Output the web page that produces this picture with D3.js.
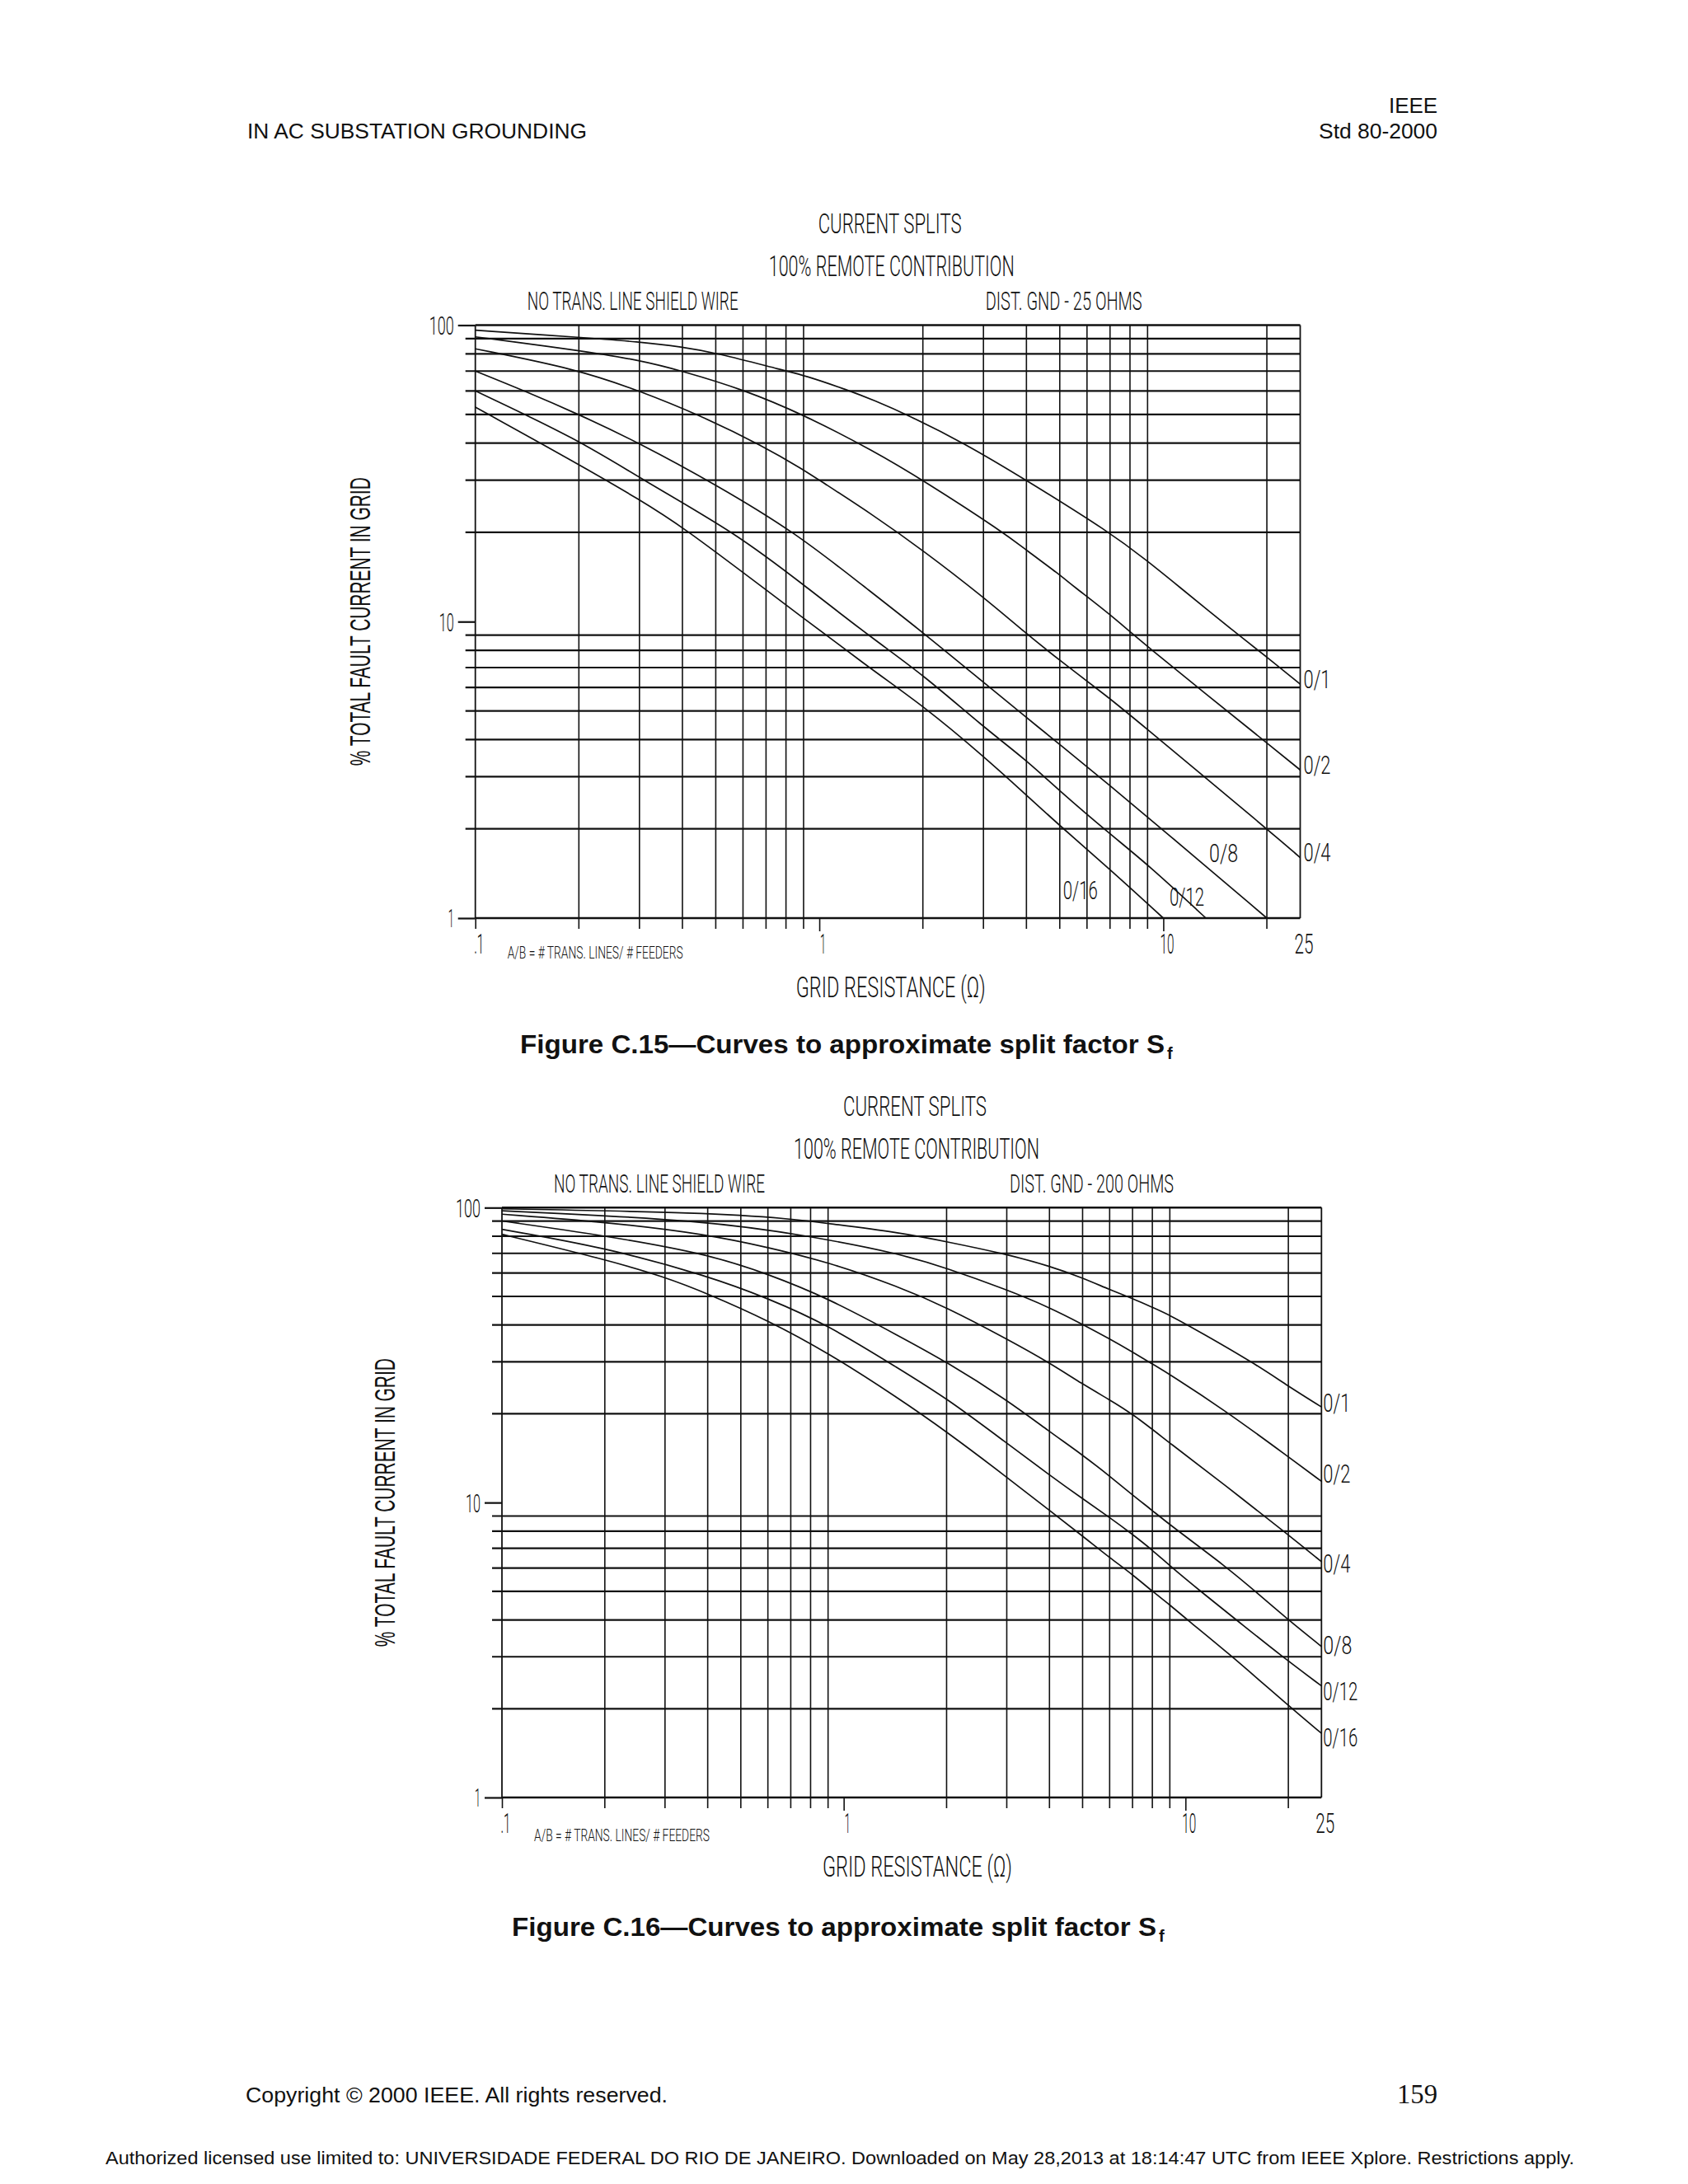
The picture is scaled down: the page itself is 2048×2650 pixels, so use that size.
<!DOCTYPE html>
<html><head><meta charset="utf-8">
<script src="https://cdn.jsdelivr.net/npm/d3@7"></script>
<style>
body{margin:0;background:#fff}
svg{display:block}
.cad{font-family:Roboto,"DejaVu Sans",sans-serif;font-weight:300;fill:#111}
.doc{font-family:"Liberation Sans",Arial,sans-serif;fill:#111}
</style>
</head><body>
<svg id="page" width="2048" height="2650" viewBox="0 0 2048 2650"></svg>
<script>
// ---------------- data ----------------
const xTickValues = [0.1, 1, 10, 25];
const xTickLabels = [".1", "1", "10", "25"];
const xGridValues = [0.2, 0.3, 0.4, 0.5, 0.6, 0.7, 0.8, 0.9, 2, 3, 4, 5, 6, 7, 8, 9, 20];
const yTickValues = [1, 10, 100];
const yTickLabels = ["1", "10", "100"];
const yGridValues = [2, 3, 4, 5, 6, 7, 8, 9, 20, 30, 40, 50, 60, 70, 80, 90];
const seriesNames = ["0/1", "0/2", "0/4", "0/8", "0/12", "0/16"];

// Figure C.15 - dist. gnd 25 ohms : [grid resistance (ohm), % total fault current in grid]
const c15_01 = [[0.1,96.1],[0.2,91.0],[0.3,87.8],[0.4,84.4],[0.5,80.7],[0.8,70],[0.9,67.9],[1.22,60.2],[1.44,55.8],[1.8,49.9],[2.64,40],[4,30],[7,20],[9.06,15.9],[10.7,13.6],[16.6,8.97],[20,7.6],[25,6.15]];
const c15_02 = [[0.1,91.3],[0.2,82.2],[0.3,76.2],[0.4,70],[0.6,60.7],[0.9,49.9],[1.44,37.6],[2,30],[3.43,20],[4,17.4],[5,14.4],[5.41,13.3],[7,10.6],[9,8.2],[20,3.9],[25,3.16]];
const c15_04 = [[0.1,83.2],[0.2,70.8],[0.3,60],[0.444,50],[0.69,39],[0.9,32.5],[1.0,30],[1.44,22.8],[2,17.4],[3,12.1],[4,9.1],[5,7.4],[7,5.5],[8,4.85],[20,2.0],[25,1.6]];
const c15_08 = [[0.1,70],[0.139,60],[0.2,50],[0.3,40],[0.5,29],[0.85,20],[1.33,13.3],[2,9.2],[3,6.24],[4,4.75],[5,3.85],[7,2.8],[10,1.98],[20,1.0]];
const c15_12 = [[0.1,60],[0.2,41],[0.3,30.5],[0.58,19.7],[0.9,13.3],[1.44,8.7],[2,6.63],[3,4.41],[4,3.41],[5,2.68],[7,1.92],[9.06,1.51],[13.3,1.0]];
const c15_16 = [[0.1,52.9],[0.2,33.9],[0.3,25.8],[0.4,20.9],[0.67,13.3],[1.44,6.8],[2,5.21],[3,3.52],[4,2.60],[5,2.05],[7,1.46],[10,1.0]];
// label anchor points [ohm, %] in series order
const c15_labels = [[25,5.98],[25,3.06],[25,1.56],[13.3,1.55],[10.2,1.10],[5.0,1.16]];

// Figure C.16 - dist. gnd 200 ohms
const c16_01 = [[0.1,99.1],[0.4,96.1],[0.7,91.7],[0.9,88.4],[1.445,82.4],[2,76.7],[3,69.5],[4,63.4],[5,57.8],[6,52.7],[7,49.2],[8,45.9],[9,43.2],[11.07,37.8],[15.8,29.8],[20,24.8],[25,21.1]];
const c16_02 = [[0.1,97.6],[0.4,90.5],[0.8,80],[1.445,70.0],[2,62.4],[3,52.7],[4,45.9],[5,40.2],[6,35.9],[7,32.4],[8,29.5],[9,27.2],[13,20.6],[20,14.3],[25,11.8]];
const c16_04 = [[0.1,95.0],[0.2,89.5],[0.4,81.1],[0.6,73.3],[0.9,65.4],[1.445,54.0],[2,45.9],[3,35.9],[4,29.8],[5,25.2],[6,22.3],[7,20.0],[9,15.9],[13,11.5],[20,7.77],[25,6.3]];
const c16_08 = [[0.1,90.1],[0.2,80.4],[0.4,69.6],[0.6,59.6],[0.9,49.3],[1.445,36.8],[2,30.0],[3,22.3],[4,17.4],[5,14.5],[6,12.3],[7,10.6],[8,9.4],[9,8.4],[13.3,6],[16,5],[20,4],[25,3.25]];
const c16_12 = [[0.1,84.4],[0.2,73.3],[0.4,58.7],[0.6,49.3],[0.9,40.0],[1.445,28.5],[2,22.6],[3,15.9],[4,12.4],[5,10.3],[6,8.9],[7,7.8],[8,6.9],[9,6.1],[11.07,5],[14.1,4],[19.2,3],[25,2.39]];
const c16_16 = [[0.1,81.2],[0.2,66.8],[0.3,58.2],[0.4,51.1],[0.6,41.5],[0.9,32.2],[1.445,22.6],[2,17.4],[3,12.2],[4,9.4],[5,7.7],[6,6.5],[7,5.7],[8,5.0],[9,4.5],[10,4.05],[13.3,3.1],[20,2.05],[25,1.65]];
const c16_labels = [[25,20.3],[25,11.66],[25,5.78],[25,3.07],[25,2.13],[25,1.49]];

// ---------------- drawing ----------------
const svg = d3.select("#page");
svg.append("rect").attr("width",2048).attr("height",2650).attr("fill","#fff");

function txt(cls, s, x, y, size, len, anchor) {
  const t = svg.append("text").attr("class", cls).attr("x", x).attr("y", y)
    .attr("font-size", size).text(s);
  if (anchor) t.attr("text-anchor", anchor);
  if (len) t.attr("textLength", len).attr("lengthAdjust", "spacingAndGlyphs");
  return t;
}

function drawFigure(cfg) {
  const x = d3.scaleLog().domain([0.1, 25]).range([cfg.left, cfg.right]);
  const y = d3.scaleLog().domain([1, 100]).range([cfg.bottom, cfg.top]);
  const g = svg.append("g");
  const ink = "#111";

  // horizontal minor grid lines
  g.selectAll("line.hg").data(yGridValues).join("line").attr("class","hg")
    .attr("x1", cfg.left - 12).attr("x2", cfg.right)
    .attr("y1", d => y(d)).attr("y2", d => y(d))
    .attr("stroke", ink).attr("stroke-width", 2.2);

  // vertical minor grid lines (extend slightly below the frame)
  g.selectAll("line.vg").data(xGridValues).join("line").attr("class","vg")
    .attr("x1", d => x(d)).attr("x2", d => x(d))
    .attr("y1", cfg.top).attr("y2", cfg.bottom + 13)
    .attr("stroke", ink).attr("stroke-width", 1.6);

  // left axis with major ticks 1, 10, 100
  const yAxis = d3.axisLeft(y).tickValues(yTickValues)
    .tickFormat((d, i) => yTickLabels[i]).tickSize(21).tickPadding(5);
  const ya = g.append("g").attr("transform", `translate(${cfg.left},0)`).call(yAxis);
  ya.select(".domain").remove();
  ya.selectAll(".tick line").attr("stroke", ink).attr("stroke-width", 2.2);
  ya.selectAll(".tick text").attr("class","cad").attr("font-size", 31)
    .attr("dy", "0.35em")
    .attr("textLength", (d, i) => [7, 18, 30][i]).attr("lengthAdjust", "spacingAndGlyphs");

  // top (100) and bottom (1) frame lines across the whole chart
  g.selectAll("line.hb").data([1, 100]).join("line").attr("class","hb")
    .attr("x1", cfg.left).attr("x2", cfg.right)
    .attr("y1", d => y(d)).attr("y2", d => y(d))
    .attr("stroke", ink).attr("stroke-width", 2.4);

  // bottom axis with ticks .1, 1, 10, 25
  const xAxis = d3.axisBottom(x).tickValues(xTickValues)
    .tickFormat((d, i) => xTickLabels[i]).tickSize(16).tickPadding(4);
  const xa = g.append("g").attr("transform", `translate(0,${cfg.bottom})`).call(xAxis);
  xa.select(".domain").remove();
  xa.selectAll(".tick line").attr("stroke", ink).attr("stroke-width", 1.6)
    .attr("y2", d => d === 25 ? 0 : (d === 0.1 ? 13 : 16));
  xa.selectAll(".tick text").attr("class","cad").attr("font-size", 33)
    .attr("dx", 4).attr("dy", "0.71em")
    .attr("textLength", (d, i) => [12, 7, 17, 23][i]).attr("lengthAdjust", "spacingAndGlyphs");

  // left and right frame borders
  g.append("line").attr("x1", x(0.1)).attr("x2", x(0.1)).attr("y1", cfg.top).attr("y2", cfg.bottom)
    .attr("stroke", ink).attr("stroke-width", 1.8);
  g.append("line").attr("x1", x(25)).attr("x2", x(25)).attr("y1", cfg.top).attr("y2", cfg.bottom)
    .attr("stroke", ink).attr("stroke-width", 1.8);

  // curves
  const line = d3.line().x(d => x(d[0])).y(d => y(d[1])).curve(d3.curveBasis);
  g.selectAll("path.curve").data(cfg.series).join("path").attr("class","curve")
    .attr("d", d => line(d)).attr("fill", "none")
    .attr("stroke", ink).attr("stroke-width", 1.7);

  // curve labels
  const lw = [33, 33, 33, 35, 42, 42];
  g.selectAll("text.clab").data(cfg.labels).join("text").attr("class","cad clab")
    .attr("x", d => x(d[0]) + cfg.labelDx).attr("y", d => y(d[1]))
    .attr("font-size", 31)
    .attr("textLength", (d, i) => lw[i]).attr("lengthAdjust", "spacingAndGlyphs")
    .text((d, i) => seriesNames[i]);

  // titles and notes
  const L = cfg.left, T = cfg.top, B = cfg.bottom;
  txt("cad", "CURRENT SPLITS", L + cfg.dxTitle + 416, T - 111.5, 34, 174);
  txt("cad", "100% REMOTE CONTRIBUTION", L + cfg.dxTitle + 356, T - 59.5, 35, 298);
  txt("cad", "NO TRANS. LINE SHIELD WIRE", L + 63, T - 18.5, 32, 256);
  txt("cad", cfg.distText, L + cfg.distDx, T - 18.5, 32, cfg.distW);
  txt("cad", "A/B = # TRANS. LINES/ # FEEDERS", L + 39, B + cfg.abDy, 21, 213);
  txt("cad", "GRID RESISTANCE (\u03A9)", L + 389, B + 96, 35, 230);

  // y-axis title
  svg.append("text").attr("class","doc")
    .attr("transform", `translate(${cfg.yTitleX},${(cfg.top + cfg.bottom) / 2}) rotate(-90)`)
    .attr("text-anchor", "middle").attr("dy", "0.36em").attr("font-size", 35)
    .attr("textLength", 350).attr("lengthAdjust", "spacingAndGlyphs")
    .text("% TOTAL FAULT CURRENT IN GRID");

  // caption
  txt("doc", cfg.caption, cfg.capX, cfg.capY, 31, 782).attr("font-weight", "bold");
  txt("doc", "f", cfg.capX + 785, cfg.capY + 7, 20).attr("font-weight", "bold");
}

drawFigure({
  left: 576.7, right: 1577.5, top: 394.5, bottom: 1114,
  series: [c15_01, c15_02, c15_04, c15_08, c15_12, c15_16],
  labels: c15_labels, labelDx: 4,
  dxTitle: 0, distText: "DIST. GND - 25 OHMS", distDx: 619, distW: 190, abDy: 49,
  yTitleX: 436,
  caption: "Figure C.15\u2014Curves to approximate split factor S", capX: 631, capY: 1278
});
drawFigure({
  left: 609, right: 1603.3, top: 1465.3, bottom: 2181,
  series: [c16_01, c16_02, c16_04, c16_08, c16_12, c16_16],
  labels: c16_labels, labelDx: 2,
  dxTitle: -2, distText: "DIST. GND - 200 OHMS", distDx: 616, distW: 199, abDy: 53,
  yTitleX: 466,
  caption: "Figure C.16\u2014Curves to approximate split factor S", capX: 621, capY: 2349
});

// page header / footer
txt("doc", "IEEE", 1744, 137, 26, 59, "end");
txt("doc", "Std 80-2000", 1744, 168, 26, 144, "end");
txt("doc", "IN AC SUBSTATION GROUNDING", 300, 168, 26, 412);
txt("doc", "Copyright \u00A9 2000 IEEE. All rights reserved.", 298, 2551, 25, 512);
svg.append("text").attr("x", 1744).attr("y", 2552).attr("text-anchor", "end")
  .attr("font-family", "'Liberation Serif','Times New Roman',serif").attr("font-size", 33)
  .attr("fill", "#111").attr("textLength", 49).attr("lengthAdjust", "spacingAndGlyphs").text("159");
txt("doc", "Authorized licensed use limited to: UNIVERSIDADE FEDERAL DO RIO DE JANEIRO. Downloaded on May 28,2013 at 18:14:47 UTC from IEEE Xplore.  Restrictions apply.", 128, 2626, 22, 1782);
</script>
</body></html>
